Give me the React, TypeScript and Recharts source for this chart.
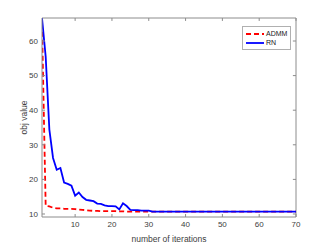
import { LineChart, Line, XAxis, YAxis, ReferenceLine } from "recharts"

const iters = Array.from({ length: 70 }, (_, i) => i + 1)

const admm = [
  65.0, 12.4, 12.2, 11.8, 11.6, 11.6, 11.5, 11.5, 11.5, 11.4,
  11.3, 11.2, 11.1, 11.0, 10.9, 10.9, 10.8, 10.8, 10.8, 10.8,
  10.8, 10.75, 10.75, 10.7, 10.7, 10.7, 10.7, 10.7, 10.7, 10.7,
  10.7, 10.7, 10.7, 10.7, 10.7, 10.7, 10.7, 10.7, 10.7, 10.7,
  10.7, 10.7, 10.7, 10.7, 10.7, 10.7, 10.7, 10.7, 10.7, 10.7,
  10.7, 10.7, 10.7, 10.7, 10.7, 10.7, 10.7, 10.7, 10.7, 10.7,
  10.7, 10.7, 10.7, 10.7, 10.7, 10.7, 10.7, 10.7, 10.7, 10.7,
]

const rn = [
  66.6, 55.5, 34.4, 26.2, 22.8, 23.3, 19.1, 18.7, 18.2, 15.3,
  16.2, 14.9, 14.1, 13.9, 13.7, 13.0, 12.9, 12.5, 12.3, 12.3,
  12.2, 11.3, 13.1, 12.3, 11.2, 11.1, 11.1, 11.0, 11.0, 11.0,
  10.7, 10.7, 10.7, 10.7, 10.7, 10.7, 10.7, 10.7, 10.7, 10.7,
  10.7, 10.7, 10.7, 10.7, 10.7, 10.7, 10.7, 10.7, 10.7, 10.7,
  10.7, 10.7, 10.7, 10.7, 10.7, 10.7, 10.7, 10.7, 10.7, 10.7,
  10.7, 10.7, 10.7, 10.7, 10.7, 10.7, 10.7, 10.7, 10.7, 10.7,
]

const xTicks = [10, 20, 30, 40, 50, 60, 70]
const yTicks = [10, 20, 30, 40, 50, 60]
const xDomain = [1, 70]
const yDomain = [9.13, 66.65]

const data = iters.map((it, i) => ({ it, admm: admm[i], rn: rn[i] }))

const font = "'Liberation Sans', Arial, sans-serif"
const axisColor = "#8c8c8c"
const textColor = "#404040"
const tickStyle = { fontSize: 8, fill: textColor, fontFamily: font }

// inward tick length in data units (about 3px)
const xTickLen = 0.85
const yTickLen = 0.85

function LegendBox() {
  return (
    <div
      style={{
        position: "absolute",
        left: 242,
        top: 26,
        border: "1px solid #b0b0b0",
        background: "#fff",
        padding: "2px 3px 2px 2px",
        fontFamily: font,
        fontSize: 7,
        color: "#202020",
        lineHeight: "9px",
      }}
    >
      <div style={{ display: "flex", alignItems: "center" }}>
        <svg width={20} height={6}>
          <line x1={1} y1={3} x2={19} y2={3} stroke="#ff0000" strokeWidth={1.8} strokeDasharray="5 3" />
        </svg>
        <span style={{ marginLeft: 1 }}>ADMM</span>
      </div>
      <div style={{ display: "flex", alignItems: "center" }}>
        <svg width={20} height={6}>
          <line x1={1} y1={3} x2={19} y2={3} stroke="#0000ff" strokeWidth={1.8} />
        </svg>
        <span style={{ marginLeft: 1 }}>RN</span>
      </div>
    </div>
  )
}

export default function App() {
  return (
    <div style={{ position: "absolute", left: 0, top: 0, width: 327, height: 245, background: "#fff" }}>
      <LineChart width={327} height={245} data={data} margin={{ top: 18, right: 31, bottom: 0, left: 0 }}>
        <XAxis
          dataKey="it"
          type="number"
          domain={xDomain}
          ticks={xTicks}
          height={28}
          stroke={axisColor}
          tickSize={-3}
          tickMargin={7}
          tick={tickStyle}
          allowDataOverflow
          label={{ value: "number of iterations", position: "insideBottom", offset: 3, style: { fontSize: 8.5, fill: textColor, fontFamily: font } }}
        />
        <YAxis
          type="number"
          domain={yDomain}
          ticks={yTicks}
          width={42}
          stroke={axisColor}
          tickSize={-3}
          tickMargin={7}
          tick={tickStyle}
          allowDataOverflow
          label={{ value: "obj value", angle: -90, position: "insideLeft", offset: 24, style: { fontSize: 8.5, fill: textColor, fontFamily: font, textAnchor: "middle" } }}
        />
        <ReferenceLine y={yDomain[1]} stroke={axisColor} />
        <ReferenceLine x={xDomain[1]} stroke={axisColor} />
        {xTicks.map((t) => (
          <ReferenceLine
            key={"tx" + t}
            segment={[{ x: t, y: yDomain[1] }, { x: t, y: yDomain[1] - yTickLen }]}
            stroke={axisColor}
          />
        ))}
        {yTicks.map((t) => (
          <ReferenceLine
            key={"ry" + t}
            segment={[{ x: xDomain[1] - xTickLen, y: t }, { x: xDomain[1], y: t }]}
            stroke={axisColor}
          />
        ))}
        <Line
          type="linear"
          dataKey="admm"
          stroke="#ff0000"
          strokeWidth={1.8}
          strokeDasharray="5 3"
          dot={false}
          isAnimationActive={false}
        />
        <Line
          type="linear"
          dataKey="rn"
          stroke="#0000ff"
          strokeWidth={1.8}
          dot={false}
          isAnimationActive={false}
        />
      </LineChart>
      <LegendBox />
    </div>
  )
}
